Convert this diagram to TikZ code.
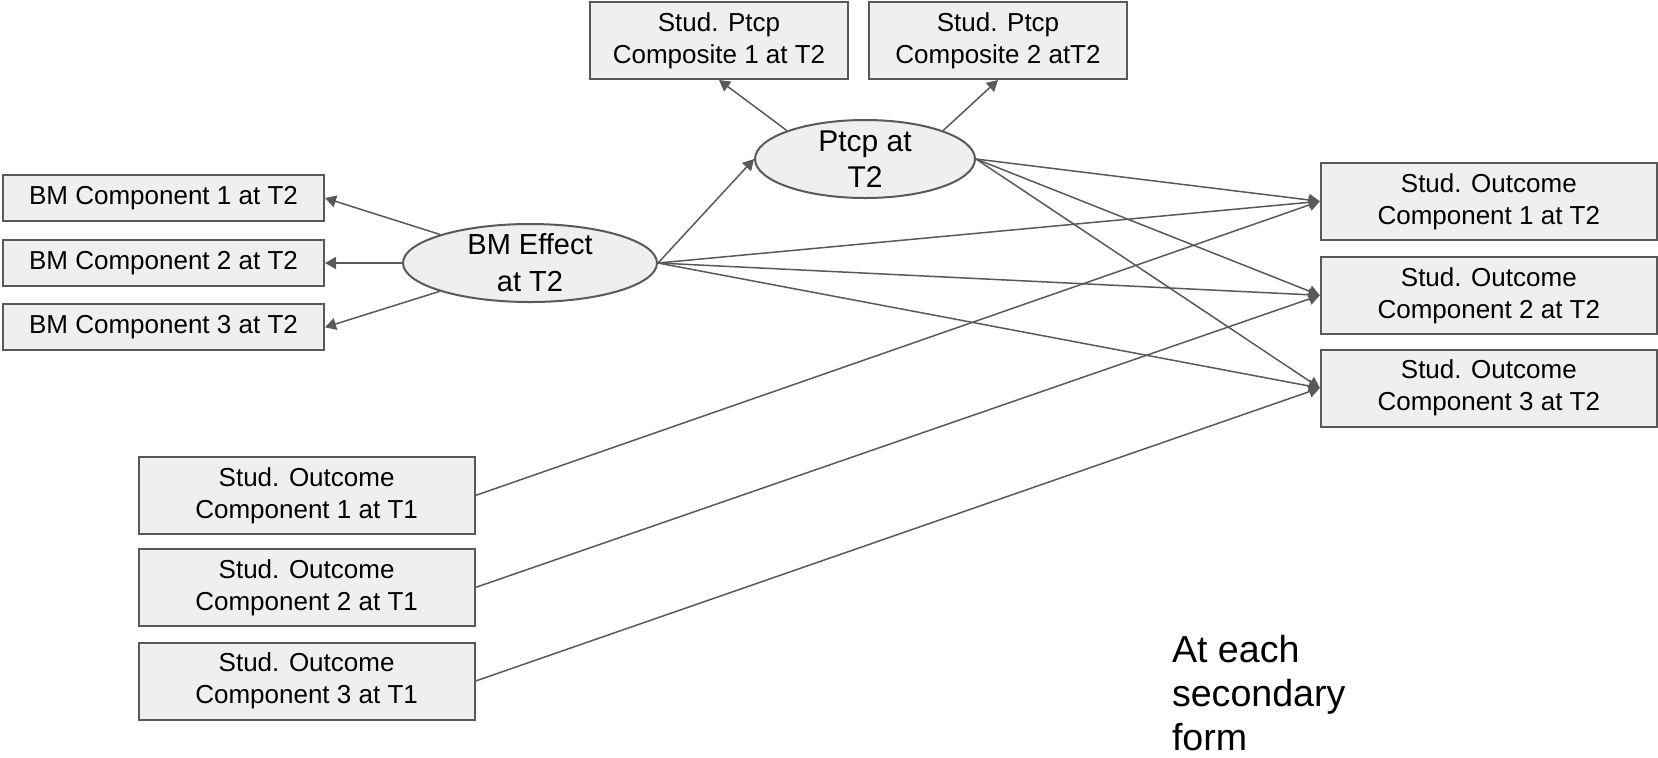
\documentclass[tikz,border=0pt]{standalone}
\usepackage{fontspec}
\setmainfont{Liberation Sans}
\usetikzlibrary{shapes.geometric,arrows.meta}
\definecolor{lc}{HTML}{595959}
\definecolor{bf}{HTML}{EFEFEF}
\begin{document}
\begin{tikzpicture}[x=0.5pt,y=-0.5pt,
 box/.style={draw=lc,line width=1pt,fill=bf,inner sep=0pt,align=center,font=\fontsize{13}{16}\selectfont},
 obox/.style={box,minimum width=168pt,minimum height=38.5pt},
 pbox/.style={box,minimum width=129pt,minimum height=38.5pt},
 bbox/.style={box,minimum width=160.5pt,minimum height=23pt},
 lat/.style={ellipse,draw=lc,line width=1pt,fill=bf,inner sep=0pt},
 lattxt/.style={align=center,font=\fontsize{15}{18}\selectfont,inner sep=0pt},
 arr/.style={draw=lc,line width=0.75pt,-{Triangle[length=5.5pt,width=6pt]}}
]
\useasboundingbox (0,0) rectangle (1658,757);
% top composites
\node[pbox] (c1) at (719,40.5) {Stud. Ptcp\\Composite 1 at T2};
\node[pbox] (c2) at (998,40.5) {Stud. Ptcp\\Composite 2 atT2};
% latent variables
\node[lat,minimum width=110pt,minimum height=39pt,label={[lattxt]center:{Ptcp at\\T2}}] (ptcp) at (865,159) {};
\node[lat,minimum width=127pt,minimum height=39pt,label={[lattxt,font=\fontsize{14.5}{18.5}\selectfont]center:{BM Effect\\at T2}}] (bme) at (530,263) {};
% BM components
\node[bbox] (bm1) at (163.5,198) {BM Component 1 at T2};
\node[bbox] (bm2) at (163.5,263) {BM Component 2 at T2};
\node[bbox] (bm3) at (163.5,327.3) {BM Component 3 at T2};
% outcomes at T2
\node[obox] (o1) at (1488.8,201.3) {Stud. Outcome\\Component 1 at T2};
\node[obox] (o2) at (1488.8,295.3) {Stud. Outcome\\Component 2 at T2};
\node[obox] (o3) at (1488.8,388) {Stud. Outcome\\Component 3 at T2};
% outcomes at T1
\node[obox] (t1) at (306.6,495.4) {Stud. Outcome\\Component 1 at T1};
\node[obox] (t2) at (306.6,587.4) {Stud. Outcome\\Component 2 at T1};
\node[obox] (t3) at (306.6,681) {Stud. Outcome\\Component 3 at T1};
% note
\node[align=left,anchor=west,inner sep=0pt,font=\fontsize{18.8}{22}\selectfont] (note) at (1171.6,693) {At each\\secondary\\form};
% connectors
\draw[arr] (bme) -- (bm1.east);
\draw[arr] (bme.west) -- (bm2.east);
\draw[arr] (bme) -- (bm3.east);
\draw[arr] (bme.east) -- (ptcp.west);
\draw[arr] (ptcp.160) -- (c1.south);
\draw[arr] (ptcp.20) -- (c2.south);
\foreach \o in {o1,o2,o3}{
  \draw[arr] (ptcp.east) -- (\o.west);
  \draw[arr] (bme.east) -- (\o.west);
}
\draw[arr] (t1.east) -- (o1.west);
\draw[arr] (t2.east) -- (o2.west);
\draw[arr] (t3.east) -- (o3.west);
\end{tikzpicture}
\end{document}
